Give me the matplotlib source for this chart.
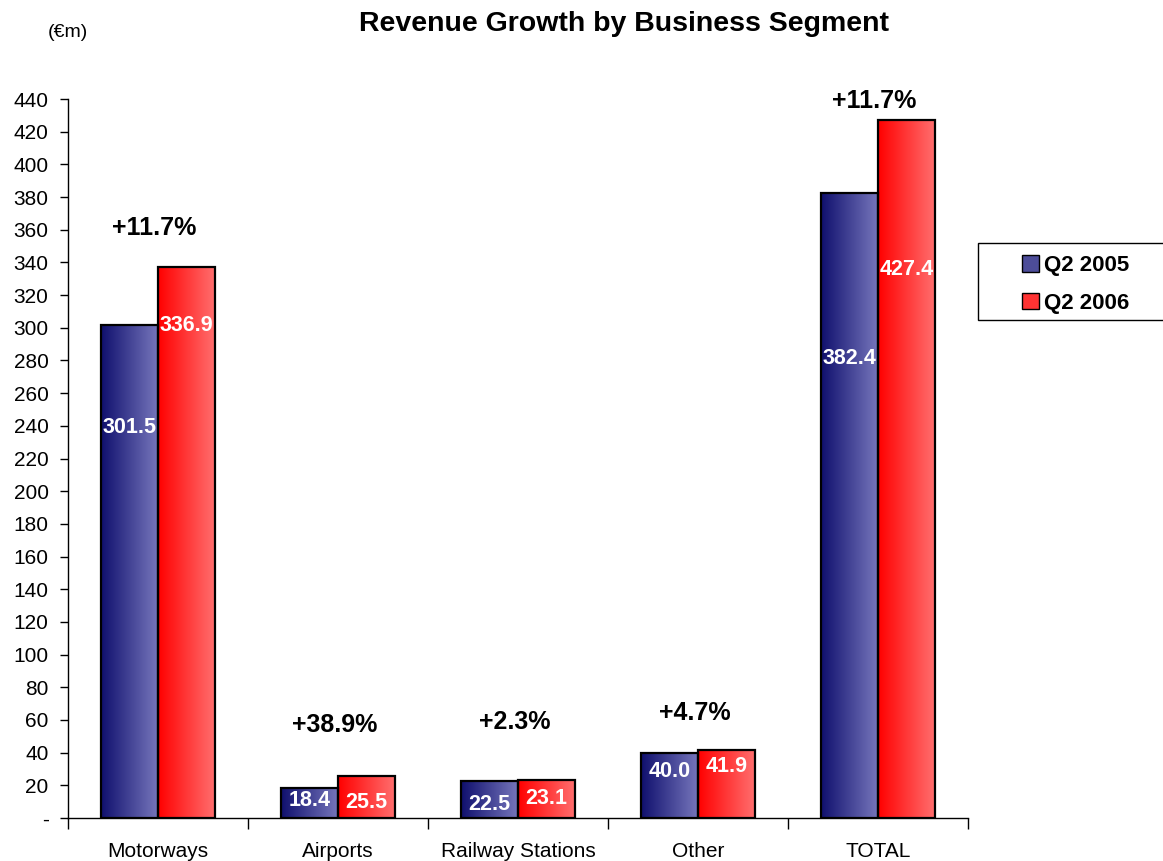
import matplotlib
matplotlib.use("Agg")
import matplotlib.pyplot as plt
import numpy as np
from matplotlib.patches import Patch, Rectangle
from matplotlib.ticker import FuncFormatter

plt.rcParams['font.family'] = ['Liberation Sans', 'DejaVu Sans']

# data
segments = ["Motorways", "Airports", "Railway Stations", "Other", "TOTAL"]
q2_2005 = [301.5, 18.4, 22.5, 40.0, 382.4]
q2_2006 = [336.9, 25.5, 23.1, 41.9, 427.4]
growth = ["+11.7%", "+38.9%", "+2.3%", "+4.7%", "+11.7%"]

# where the labels sit (in data units)
lab_2005 = [238.7, 11.0, 8.0, 28.2, 281.5]
lab_2006 = [301.1, 9.8, 12.2, 31.8, 335.4]
growth_y = [361, 57, 58.7, 64, 439]

blue_l, blue_r = (0.06, 0.06, 0.43), (0.47, 0.47, 0.74)
red_l, red_r = (1.0, 0.0, 0.0), (1.0, 0.44, 0.44)


def grad(c1, c2):
    t = np.linspace(0, 1, 256)[None, :, None]
    return np.array(c1)[None, None, :] * (1 - t) + np.array(c2)[None, None, :] * t


fig = plt.figure(figsize=(11.63, 8.61), dpi=100)
ax = fig.add_axes([0.0585, 0.0499, 0.8323 - 0.0585, 0.885 - 0.0499])

x = np.arange(len(segments))
w = 0.317

b1 = ax.bar(x - w / 2, q2_2005, w, facecolor="none", edgecolor="black", linewidth=1.6, zorder=3)
b2 = ax.bar(x + w / 2, q2_2006, w, facecolor="none", edgecolor="black", linewidth=1.6, zorder=3)

g_blue = grad(blue_l, blue_r)
g_red = grad(red_l, red_r)
for bars, g in ((b1, g_blue), (b2, g_red)):
    for p in bars:
        x0, y0 = p.get_x(), p.get_y()
        ax.imshow(g, extent=[x0, x0 + p.get_width(), y0, y0 + p.get_height()],
                  aspect="auto", zorder=2, interpolation="bilinear")

for i in range(len(segments)):
    ax.text(x[i] - w / 2, lab_2005[i], "%.1f" % q2_2005[i], color="white", fontsize=15.5,
            fontweight="bold", ha="center", va="center", zorder=4)
    ax.text(x[i] + w / 2, lab_2006[i], "%.1f" % q2_2006[i], color="white", fontsize=15.5,
            fontweight="bold", ha="center", va="center", zorder=4)
    ax.text(x[i] - 0.02, growth_y[i], growth[i], fontsize=18, fontweight="bold",
            ha="center", va="center", zorder=4)

ax.set_xlim(-0.5, len(segments) - 0.5)
ax.set_ylim(0, 440)
ax.set_yticks(np.arange(0, 441, 20))
ax.yaxis.set_major_formatter(FuncFormatter(lambda v, p: "-" if v == 0 else "%d" % v))

# category ticks at the boundaries, names in between
ax.set_xticks(np.arange(-0.5, len(segments), 1.0))
ax.set_xticklabels([])
ax.set_xticks(x, minor=True)
ax.set_xticklabels(segments, minor=True)
ax.tick_params(axis="x", which="major", direction="out", length=8, width=1)
ax.tick_params(axis="x", which="minor", length=0, pad=17, labelsize=15)
ax.tick_params(axis="y", direction="out", length=6, width=1, labelsize=15, pad=8)

for s in ("top", "right"):
    ax.spines[s].set_visible(False)
ax.spines["left"].set_linewidth(1)
ax.spines["bottom"].set_linewidth(1)

fig.text(0.5365, 0.972, "Revenue Growth by Business Segment", fontsize=20.5,
         fontweight="bold", ha="center", va="center")
fig.text(0.0413, 0.962, "(€m)", fontsize=14, ha="left", va="center")

# legend box
fig.patches.append(Rectangle((978 / 1163, 1 - 320 / 861), 0.2, 77 / 861,
                             transform=fig.transFigure, facecolor="white",
                             edgecolor="black", linewidth=1))
handles = [Patch(facecolor=(0.3, 0.3, 0.6), edgecolor="black"),
           Patch(facecolor=(1.0, 0.2, 0.2), edgecolor="black")]
fig.legend(handles, ["Q2 2005", "Q2 2006"], loc="center left",
           bbox_to_anchor=(1002 / 1163, 1 - 284.5 / 861), frameon=False,
           prop={"weight": "bold", "size": 16}, handlelength=0.75, handleheight=0.75,
           handletextpad=0.25, labelspacing=0.75)

fig.savefig("out.png", dpi=100)
